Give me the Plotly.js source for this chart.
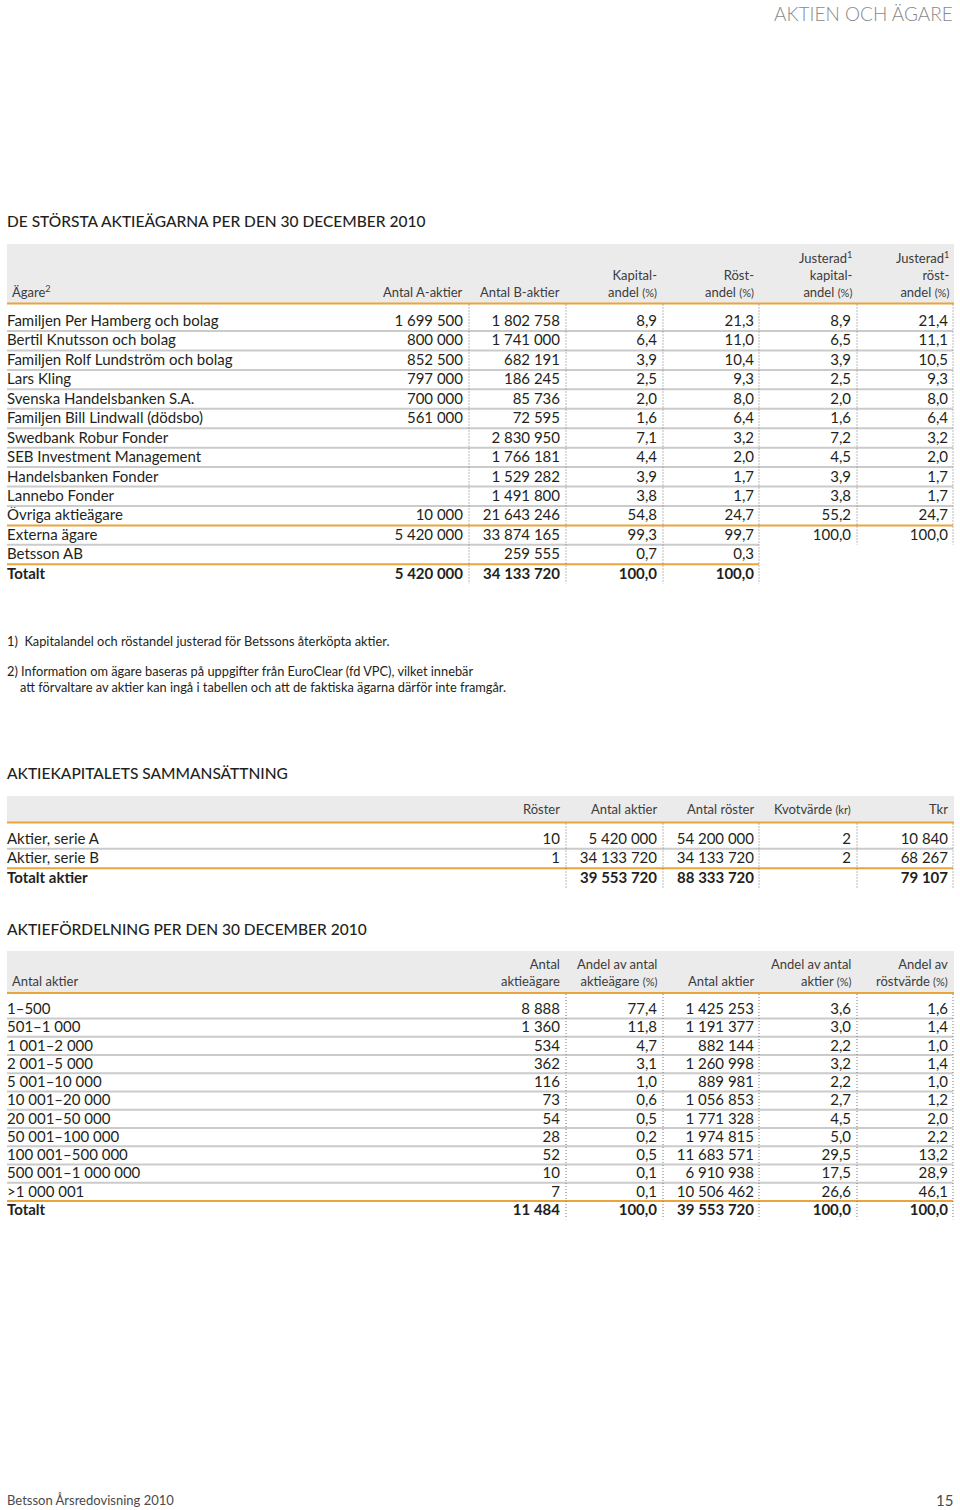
<!DOCTYPE html>
<html>
<head>
<meta charset="utf-8">
<script src="https://cdn.plot.ly/plotly-3.0.1.min.js"></script>
<style>
  html, body { margin: 0; padding: 0; background: #fff; }
  #page { width: 960px; height: 1510px; }
</style>
</head>
<body>
<div id="page"></div>
<script>
// ---- De största aktieägarna per den 30 december 2010 ----
const owners = ['Familjen Per Hamberg och bolag', 'Bertil Knutsson och bolag', 'Familjen Rolf Lundström och bolag',
  'Lars Kling', 'Svenska Handelsbanken S.A.', 'Familjen Bill Lindwall (dödsbo)', 'Swedbank Robur Fonder',
  'SEB Investment Management', 'Handelsbanken Fonder', 'Lannebo Fonder', 'Övriga aktieägare',
  'Externa ägare', 'Betsson AB', 'Totalt'];
const aShares   = [1699500, 800000, 852500, 797000, 700000, 561000, null, null, null, null, 10000, 5420000, null, 5420000];
const bShares   = [1802758, 1741000, 682191, 186245, 85736, 72595, 2830950, 1766181, 1529282, 1491800, 21643246, 33874165, 259555, 34133720];
const capShare  = [8.9, 6.4, 3.9, 2.5, 2.0, 1.6, 7.1, 4.4, 3.9, 3.8, 54.8, 99.3, 0.7, 100.0];
const voteShare = [21.3, 11.0, 10.4, 9.3, 8.0, 6.4, 3.2, 2.0, 1.7, 1.7, 24.7, 99.7, 0.3, 100.0];
const adjCap    = [8.9, 6.5, 3.9, 2.5, 2.0, 1.6, 7.2, 4.5, 3.9, 3.8, 55.2, 100.0, null, null];
const adjVote   = [21.4, 11.1, 10.5, 9.3, 8.0, 6.4, 3.2, 2.0, 1.7, 1.7, 24.7, 100.0, null, null];

// ---- Aktiekapitalets sammansättning ----
const shareClasses = ['Aktier, serie A', 'Aktier, serie B', 'Totalt aktier'];
const votesPerShare = [10, 1, null];
const classShares   = [5420000, 34133720, 39553720];
const classVotes    = [54200000, 34133720, 88333720];
const quotaValue    = [2, 2, null];
const classTkr      = [10840, 68267, 79107];

// ---- Aktiefördelning per den 30 december 2010 ----
const sizeBands = ['1–500', '501–1 000', '1 001–2 000', '2 001–5 000', '5 001–10 000', '10 001–20 000',
  '20 001–50 000', '50 001–100 000', '100 001–500 000', '500 001–1 000 000', '>1 000 001', 'Totalt'];
const holders    = [8888, 1360, 534, 362, 116, 73, 54, 28, 52, 10, 7, 11484];
const holderPct  = [77.4, 11.8, 4.7, 3.1, 1.0, 0.6, 0.5, 0.2, 0.5, 0.1, 0.1, 100.0];
const bandShares = [1425253, 1191377, 882144, 1260998, 889981, 1056853, 1771328, 1974815, 11683571, 6910938, 10506462, 39553720];
const bandShrPct = [3.6, 3.0, 2.2, 3.2, 2.2, 2.7, 4.5, 5.0, 29.5, 17.5, 26.6, 100.0];
const bandVotPct = [1.6, 1.4, 1.0, 1.4, 1.0, 1.2, 2.0, 2.2, 13.2, 28.9, 46.1, 100.0];

const FONT = 'Lato, "Open Sans", sans-serif';
const INK = '#231f20';
const HEAD = '#3c3c3c';
const ORANGE = '#e9a43c';
const RULE = '#cbcbcb';
const BAND = '#ebebeb';

const fmtInt = v => v == null ? '' : String(v).replace(/\B(?=(\d{3})+(?!\d))/g, ' ');
const fmtPct = v => v == null ? '' : v.toFixed(1).replace('.', ',');

const traces = [];
const shapes = [];
const annotations = [];

// one text column of a table (empty cells are skipped)
function column(x, y0, dy, texts, pos, boldLast) {
  const rows = texts.map((t, i) => i).filter(i => texts[i] !== '');
  traces.push({
    type: 'scatter', mode: 'text',
    x: rows.map(() => x),
    y: rows.map(i => y0 + i * dy + 1),
    text: rows.map(i => (boldLast && i === texts.length - 1) ? '<b>' + texts[i] + '</b>' : texts[i]),
    textposition: pos,
    textfont: { family: FONT, size: 15, color: INK },
    hoverinfo: 'skip', cliponaxis: false,
  });
}
function hline(y, x0, x1, color) {
  shapes.push({ type: 'line', x0, x1, y0: y, y1: y, line: { color, width: 2 } });
}
function dotted(x, y0, y1) {
  shapes.push({ type: 'line', x0: x, x1: x, y0, y1, line: { color: '#777', width: 1, dash: '1px,2px' } });
}
function band(y0, y1) {
  shapes.push({ type: 'rect', x0: 7, x1: 954, y0, y1, fillcolor: BAND, line: { width: 0 }, layer: 'below' });
  hline(y1, 7, 954, ORANGE);
}
function label(text, x, y, xanchor, yanchor, size, color, weight) {
  annotations.push({
    text, x, y, xref: 'x', yref: 'y', xanchor, yanchor, showarrow: false,
    borderpad: 0, borderwidth: 0, align: xanchor === 'right' ? 'right' : 'left',
    font: { family: FONT, size, color, weight: weight || 400 },
  });
}
const pctTag = '<span style="font-size:11px">(%)</span>';

// column grid shared by all three tables
const colRight = [463, 560, 657, 754, 851, 948];
const colSep   = [469, 566, 663, 759, 857, 953];

// page header / footer
label('AKTIEN OCH ÄGARE', 953, 13, 'right', 'middle', 19, '#8a8a8a', 300);
label('Betsson Årsredovisning 2010', 7, 1500, 'left', 'middle', 13, '#4a4a4a');
label('15', 953, 1500, 'right', 'middle', 15, '#4a4a4a');

// ---------- table 1 ----------
label('DE STÖRSTA AKTIEÄGARNA PER DEN 30 DECEMBER 2010', 7, 221, 'left', 'middle', 15.5, INK, 500);
band(244, 303.5);
const h1Bottom = 300;
label('Ägare<sup>2</sup>', 12, h1Bottom, 'left', 'bottom', 13, HEAD);
label('Antal A-aktier', colRight[0], h1Bottom, 'right', 'bottom', 13, HEAD);
label('Antal B-aktier', colRight[1], h1Bottom, 'right', 'bottom', 13, HEAD);
label('Kapital-<br>andel ' + pctTag, colRight[2], h1Bottom, 'right', 'bottom', 13, HEAD);
label('Röst-<br>andel ' + pctTag, colRight[3], h1Bottom, 'right', 'bottom', 13, HEAD);
label('Justerad<sup>1</sup><br>kapital-<br>andel ' + pctTag, colRight[4] + 2, h1Bottom, 'right', 'bottom', 13, HEAD);
label('Justerad<sup>1</sup><br>röst-<br>andel ' + pctTag, colRight[5] + 2, h1Bottom, 'right', 'bottom', 13, HEAD);

const r1y = 321.3, r1h = 19.44;
column(7, r1y, r1h, owners, 'middle right', true);
column(colRight[0], r1y, r1h, aShares.map(fmtInt), 'middle left', true);
column(colRight[1], r1y, r1h, bShares.map(fmtInt), 'middle left', true);
column(colRight[2], r1y, r1h, capShare.map(fmtPct), 'middle left', true);
column(colRight[3], r1y, r1h, voteShare.map(fmtPct), 'middle left', true);
column(colRight[4], r1y, r1h, adjCap.map(fmtPct), 'middle left', false);
column(colRight[5], r1y, r1h, adjVote.map(fmtPct), 'middle left', false);
owners.slice(0, -1).forEach((_, i) => {
  const y = r1y + (i + 0.5) * r1h;
  if (i < 10) hline(y, 7, 953, RULE);
  else if (i === 10) hline(y, 7, 953, ORANGE);
  else if (i === 11) hline(y, 7, 759, RULE);
  else hline(y, 7, 759, ORANGE);
});
const t1End = r1y + (owners.length - 0.5) * r1h;
colSep.forEach((x, j) => dotted(x, 304.5, j < 4 ? t1End : r1y + 11.5 * r1h));

// footnotes
label('1)  Kapitalandel och röstandel justerad för Betssons återköpta aktier.', 7, 641, 'left', 'middle', 12.8, INK);
label('2) Information om ägare baseras på uppgifter från EuroClear (fd VPC), vilket innebär', 7, 671, 'left', 'middle', 12.8, INK);
label('att förvaltare av aktier kan ingå i tabellen och att de faktiska ägarna därför inte framgår.', 20, 687, 'left', 'middle', 12.8, INK);

// ---------- table 2 ----------
label('AKTIEKAPITALETS SAMMANSÄTTNING', 7, 773, 'left', 'middle', 15.5, INK, 500);
band(796, 822.5);
['Röster', 'Antal aktier', 'Antal röster', 'Kvotvärde <span style="font-size:11px">(kr)</span>', 'Tkr']
  .forEach((t, j) => label(t, colRight[j + 1], 809, 'right', 'middle', 13, HEAD));
const r2y = 839, r2h = 19.5;
column(7, r2y, r2h, shareClasses, 'middle right', true);
column(colRight[1], r2y, r2h, votesPerShare.map(fmtInt), 'middle left', true);
column(colRight[2], r2y, r2h, classShares.map(fmtInt), 'middle left', true);
column(colRight[3], r2y, r2h, classVotes.map(fmtInt), 'middle left', true);
column(colRight[4], r2y, r2h, quotaValue.map(fmtInt), 'middle left', true);
column(colRight[5], r2y, r2h, classTkr.map(fmtInt), 'middle left', true);
hline(r2y + 0.5 * r2h, 7, 953, RULE);
hline(r2y + 1.5 * r2h, 7, 953, ORANGE);
colSep.slice(1).forEach(x => dotted(x, 823.5, r2y + 2.5 * r2h));

// ---------- table 3 ----------
label('AKTIEFÖRDELNING PER DEN 30 DECEMBER 2010', 7, 929, 'left', 'middle', 15.5, INK, 500);
band(951, 993);
const h3Bottom = 989;
label('Antal aktier', 12, h3Bottom, 'left', 'bottom', 13, HEAD);
label('Antal<br>aktieägare', colRight[1], h3Bottom, 'right', 'bottom', 13, HEAD);
label('Andel av antal<br>aktieägare ' + pctTag, colRight[2], h3Bottom, 'right', 'bottom', 13, HEAD);
label('Antal aktier', colRight[3], h3Bottom, 'right', 'bottom', 13, HEAD);
label('Andel av antal<br>aktier ' + pctTag, colRight[4], h3Bottom, 'right', 'bottom', 13, HEAD);
label('Andel av<br>röstvärde ' + pctTag, colRight[5], h3Bottom, 'right', 'bottom', 13, HEAD);
const r3y = 1009.3, r3h = 18.25;
column(7, r3y, r3h, sizeBands, 'middle right', true);
column(colRight[1], r3y, r3h, holders.map(fmtInt), 'middle left', true);
column(colRight[2], r3y, r3h, holderPct.map(fmtPct), 'middle left', true);
column(colRight[3], r3y, r3h, bandShares.map(fmtInt), 'middle left', true);
column(colRight[4], r3y, r3h, bandShrPct.map(fmtPct), 'middle left', true);
column(colRight[5], r3y, r3h, bandVotPct.map(fmtPct), 'middle left', true);
sizeBands.slice(0, -1).forEach((_, i) =>
  hline(r3y + (i + 0.5) * r3h, 7, 953, i === sizeBands.length - 2 ? ORANGE : RULE));
colSep.slice(1).forEach(x => dotted(x, 994, r3y + (sizeBands.length - 0.5) * r3h));

const layout = {
  width: 960, height: 1510,
  margin: { l: 0, r: 0, t: 0, b: 0 },
  paper_bgcolor: '#fff', plot_bgcolor: '#fff',
  showlegend: false, hovermode: false,
  xaxis: { range: [0, 960], visible: false, fixedrange: true },
  yaxis: { range: [1510, 0], visible: false, fixedrange: true },
  shapes, annotations,
};
Plotly.newPlot('page', traces, layout, { displayModeBar: false, staticPlot: true });
</script>
</body>
</html>
